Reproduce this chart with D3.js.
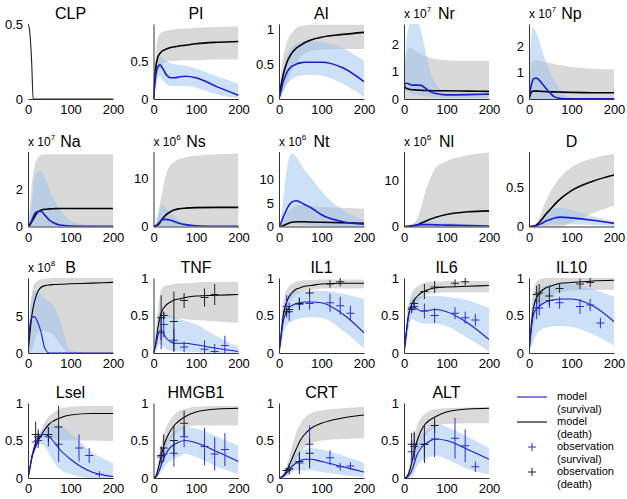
<!DOCTYPE html>
<html><head><meta charset="utf-8">
<script src="https://cdn.jsdelivr.net/npm/d3@7"></script>
<style>
body{margin:0;background:#fff;}
svg{display:block;}
text{font-family:"Liberation Sans",Arial,Helvetica,sans-serif;fill:#000;}
</style>
</head><body>
<svg id="c" width="627" height="499"></svg>
<script>
// ---------- data ----------
const T = [0, 5, 10, 15, 20, 30, 40, 50, 60, 75, 100, 150, 200];
const obsT = [18, 24, 48, 72, 120, 144, 168];
const xTicks = [0, 100, 200];

const CLP_t = [0, 3, 6, 9, 12, 200];
const CLP_v = [0.5, 0.47, 0.38, 0.22, 0, 0];

const PI_death   = [0, 0.40, 0.55, 0.60, 0.63, 0.66, 0.68, 0.69, 0.70, 0.71, 0.73, 0.75, 0.76];
const PI_deathLo = [0, 0.15, 0.32, 0.42, 0.46, 0.49, 0.50, 0.50, 0.51, 0.51, 0.51, 0.52, 0.52];
const PI_deathHi = [0, 0.55, 0.80, 0.86, 0.88, 0.90, 0.91, 0.92, 0.93, 0.93, 0.94, 0.95, 0.96];
const PI_surv    = [0, 0.30, 0.42, 0.45, 0.42, 0.32, 0.28, 0.28, 0.29, 0.30, 0.28, 0.16, 0.05];
const PI_survLo  = [0, 0.15, 0.28, 0.30, 0.26, 0.20, 0.17, 0.17, 0.17, 0.17, 0.15, 0.06, 0.01];
const PI_survHi  = [0, 0.40, 0.52, 0.56, 0.55, 0.50, 0.47, 0.46, 0.45, 0.44, 0.40, 0.30, 0.20];

const AI_death   = [0, 0.20, 0.35, 0.46, 0.55, 0.66, 0.73, 0.77, 0.81, 0.85, 0.89, 0.93, 0.96];
const AI_deathLo = [0, 0.05, 0.10, 0.17, 0.25, 0.40, 0.52, 0.60, 0.65, 0.69, 0.71, 0.72, 0.72];
const AI_deathHi = [0, 0.40, 0.62, 0.75, 0.85, 0.95, 1.02, 1.05, 1.06, 1.07, 1.07, 1.07, 1.07];
const AI_surv    = [0, 0.13, 0.25, 0.33, 0.40, 0.47, 0.50, 0.52, 0.53, 0.53, 0.53, 0.45, 0.25];
const AI_survLo  = [0, 0.05, 0.12, 0.18, 0.22, 0.28, 0.32, 0.34, 0.35, 0.35, 0.34, 0.22, 0.03];
const AI_survHi  = [0, 0.25, 0.42, 0.55, 0.65, 0.75, 0.80, 0.82, 0.83, 0.83, 0.82, 0.73, 0.55];

const Nr_death   = [0.50, 0.40, 0.37, 0.35, 0.34, 0.33, 0.32, 0.31, 0.31, 0.30, 0.30, 0.29, 0.28];
const Nr_deathLo = [0, 0, 0, 0, 0, 0, 0, 0, 0, 0, 0, 0, 0];
const Nr_deathHi = [0.6, 1.6, 1.85, 1.9, 1.85, 1.75, 1.65, 1.58, 1.52, 1.47, 1.42, 1.40, 1.40];
const Nr_surv    = [0.50, 0.58, 0.57, 0.52, 0.51, 0.51, 0.50, 0.40, 0.28, 0.20, 0.15, 0.16, 0.18];
const Nr_survLo  = [0.3, 0.3, 0.25, 0.2, 0.18, 0.15, 0.12, 0.1, 0.08, 0.06, 0.05, 0.05, 0.05];
const Nr_survHi  = [0.6, 2.0, 2.6, 2.9, 2.9, 2.9, 2.5, 1.8, 1.1, 0.55, 0.25, 0.22, 0.22];

const Np_death   = [0, 0.25, 0.30, 0.30, 0.30, 0.29, 0.28, 0.27, 0.27, 0.26, 0.25, 0.24, 0.24];
const Np_deathLo = [0, 0, 0, 0, 0, 0, 0, 0, 0, 0, 0, 0, 0];
const Np_deathHi = [0.2, 1.3, 1.45, 1.48, 1.47, 1.43, 1.40, 1.37, 1.33, 1.28, 1.22, 1.15, 1.12];
const Np_surv    = [0, 0.50, 0.75, 0.80, 0.78, 0.60, 0.40, 0.22, 0.08, 0.02, 0.01, 0.01, 0.01];
const Np_survLo  = [0, 0, 0, 0, 0, 0, 0, 0, 0, 0, 0, 0, 0];
const Np_survHi  = [0.3, 2.3, 2.75, 2.6, 2.4, 1.9, 1.4, 1.0, 0.7, 0.3, 0.05, 0.02, 0.02];

const Na_death   = [0, 0.10, 0.30, 0.50, 0.70, 0.88, 0.93, 0.95, 0.96, 0.97, 0.97, 0.97, 0.97];
const Na_deathLo = [0, 0, 0, 0, 0, 0, 0, 0, 0, 0, 0, 0, 0];
const Na_deathHi = [0, 1.2, 2.5, 3.2, 3.6, 3.85, 3.9, 3.9, 3.9, 3.9, 3.9, 3.9, 3.9];
const Na_surv    = [0, 0.15, 0.40, 0.65, 0.80, 0.82, 0.60, 0.35, 0.20, 0.08, 0.03, 0.01, 0.01];
const Na_survLo  = [0, 0, 0, 0, 0, 0, 0, 0, 0, 0, 0, 0, 0];
const Na_survHi  = [0, 0.5, 1.5, 2.5, 2.9, 3.0, 2.6, 2.0, 1.5, 0.9, 0.3, 0.05, 0.02];

const Ns_death   = [0, 0.1, 0.3, 0.8, 1.5, 2.5, 3.1, 3.5, 3.7, 3.85, 3.95, 4.0, 4.0];
const Ns_deathLo = [0, 0, 0, 0, 0, 0, 0, 0, 0, 0, 0, 0, 0];
const Ns_deathHi = [0, 0.5, 2.0, 4.5, 7.0, 11.0, 12.8, 13.6, 14.1, 14.5, 14.8, 15.1, 15.3];
const Ns_surv    = [0, 0.1, 0.5, 1.0, 1.4, 1.5, 1.3, 1.0, 0.7, 0.4, 0.15, 0.05, 0.03];
const Ns_survLo  = [0, 0, 0, 0, 0, 0, 0, 0, 0, 0, 0, 0, 0];
const Ns_survHi  = [0, 0.5, 2.5, 4.0, 4.5, 3.8, 2.8, 2.0, 1.3, 0.7, 0.3, 0.1, 0.05];

const Nt_death   = [0, 0.05, 0.2, 0.4, 0.6, 0.9, 1.0, 1.0, 1.0, 0.95, 0.9, 0.8, 0.7];
const Nt_deathLo = [0, 0, 0, 0, 0, 0, 0, 0, 0, 0, 0, 0, 0];
const Nt_deathHi = [0, 0.3, 1.0, 2.0, 3.0, 4.0, 4.5, 4.6, 4.6, 4.4, 4.2, 4.0, 3.8];
const Nt_surv    = [0, 0.8, 2.0, 3.0, 4.0, 5.2, 5.5, 5.2, 4.7, 4.0, 2.5, 1.0, 0.5];
const Nt_survLo  = [0, 0, 0, 0.2, 0.4, 0.6, 0.6, 0.5, 0.4, 0.3, 0.1, 0, 0];
const Nt_survHi  = [0, 2.0, 6.0, 10.0, 13.0, 15.5, 15.0, 13.5, 12.0, 10.5, 7.5, 3.5, 1.4];

const Nl_death   = [0, 0, 0, 0.02, 0.08, 0.3, 0.7, 1.1, 1.5, 2.0, 2.6, 3.2, 3.4];
const Nl_deathLo = [0, 0, 0, 0, 0, 0, 0, 0, 0, 0, 0, 0, 0];
const Nl_deathHi = [0, 0, 0.05, 0.15, 0.3, 1.5, 4.0, 7.5, 10.0, 12.8, 14.2, 15.5, 16.1];
const Nl_surv    = [0, 0, 0.05, 0.1, 0.2, 0.3, 0.4, 0.4, 0.4, 0.35, 0.3, 0.2, 0.1];
const Nl_survLo  = [0, 0, 0, 0, 0, 0, 0, 0, 0, 0, 0, 0, 0];
const Nl_survHi  = [0, 0, 0.2, 0.4, 0.6, 0.9, 1.1, 1.2, 1.1, 1.0, 0.8, 0.5, 0.3];

const D_death    = [0, 0, 0.005, 0.01, 0.03, 0.09, 0.16, 0.22, 0.28, 0.36, 0.46, 0.58, 0.66];
const D_deathLo  = [0, 0, 0, 0, 0, 0, 0, 0, 0, 0, 0.05, 0.17, 0.27];
const D_deathHi  = [0, 0, 0.01, 0.03, 0.07, 0.20, 0.33, 0.44, 0.53, 0.64, 0.76, 0.87, 0.93];
const D_surv     = [0, 0, 0.002, 0.005, 0.015, 0.04, 0.07, 0.09, 0.11, 0.12, 0.11, 0.08, 0.04];
const D_survLo   = [0, 0, 0, 0, 0, 0.01, 0.02, 0.03, 0.03, 0.03, 0.03, 0.02, 0.01];
const D_survHi   = [0, 0, 0.005, 0.01, 0.04, 0.10, 0.16, 0.20, 0.23, 0.24, 0.21, 0.13, 0.07];

const B_death    = [0, 3.0, 5.5, 7.0, 8.0, 9.0, 9.25, 9.35, 9.4, 9.45, 9.5, 9.6, 9.7];
const B_deathLo  = [0, 0, 0.5, 1.5, 2.5, 3.0, 3.0, 2.8, 2.5, 1.2, 0, 0, 0];
const B_deathHi  = [0.5, 5.5, 8.5, 9.5, 9.8, 10.1, 10.2, 10.25, 10.3, 10.3, 10.3, 10.3, 10.3];
const B_surv     = [0, 4.0, 4.9, 5.0, 4.6, 3.0, 0.6, 0, 0, 0, 0, 0, 0];
const B_survLo   = [0, 0, 0, 0, 0, 0, 0, 0, 0, 0, 0, 0, 0];
const B_survHi   = [0.5, 6.0, 8.0, 8.5, 8.5, 8.0, 7.5, 7.0, 6.5, 4.5, 0.3, 0, 0];

const TNF_death   = [0, 0.12, 0.32, 0.47, 0.56, 0.64, 0.68, 0.71, 0.72, 0.74, 0.76, 0.77, 0.78];
const TNF_deathLo = [0, 0.02, 0.15, 0.35, 0.45, 0.47, 0.47, 0.46, 0.46, 0.45, 0.44, 0.42, 0.40];
const TNF_deathHi = [0, 0.25, 0.55, 0.78, 0.86, 0.90, 0.91, 0.92, 0.93, 0.93, 0.94, 0.95, 0.95];
const TNF_surv    = [0, 0.10, 0.22, 0.30, 0.29, 0.20, 0.15, 0.13, 0.13, 0.13, 0.11, 0.06, 0.02];
const TNF_survLo  = [0, 0.03, 0.08, 0.12, 0.10, 0.05, 0.03, 0.02, 0.02, 0.02, 0.01, 0, 0];
const TNF_survHi  = [0, 0.25, 0.45, 0.55, 0.55, 0.53, 0.50, 0.48, 0.46, 0.43, 0.38, 0.22, 0.08];
const TNF_obsSurv = [0.27, 0.38, 0.17, 0.08, 0.05, 0.02, 0.10];
const TNF_errSurv = [0.22, 0.17, 0.15, 0.07, 0.12, 0.1, 0.13];
const TNF_obsDeath = [0.47, 0.50, 0.42, 0.70, 0.74, 0.78];
const TNF_errDeath = [0.3, 0.05, 0.4, 0.1, 0.12, 0.14];

const IL1_death   = [0, 0.25, 0.50, 0.63, 0.71, 0.80, 0.85, 0.87, 0.89, 0.90, 0.92, 0.93, 0.93];
const IL1_deathLo = [0, 0.10, 0.35, 0.50, 0.60, 0.72, 0.78, 0.81, 0.83, 0.84, 0.86, 0.86, 0.86];
const IL1_deathHi = [0, 0.40, 0.68, 0.80, 0.86, 0.92, 0.95, 0.96, 0.97, 0.97, 0.98, 0.98, 0.98];
const IL1_surv    = [0, 0.22, 0.42, 0.52, 0.58, 0.63, 0.66, 0.67, 0.68, 0.68, 0.67, 0.52, 0.27];
const IL1_survLo  = [0, 0.10, 0.25, 0.33, 0.38, 0.42, 0.45, 0.46, 0.47, 0.48, 0.47, 0.30, 0.06];
const IL1_survHi  = [0, 0.35, 0.60, 0.70, 0.76, 0.80, 0.82, 0.82, 0.83, 0.83, 0.83, 0.79, 0.72];
const IL1_obsSurv = [0.62, 0.55, 0.65, 0.66, 0.67, 0.63, 0.53];
const IL1_errSurv = [0.15, 0.12, 0.08, 0.08, 0.12, 0.12, 0.1];
const IL1_obsDeath = [0.55, 0.58, 0.66, 0.80, 0.92, 0.95];
const IL1_errDeath = [0.05, 0.05, 0.08, 0.06, 0.05, 0.06];

const IL6_death   = [0, 0.25, 0.48, 0.60, 0.67, 0.75, 0.80, 0.83, 0.85, 0.87, 0.88, 0.89, 0.90];
const IL6_deathLo = [0, 0.10, 0.30, 0.45, 0.55, 0.67, 0.73, 0.77, 0.79, 0.80, 0.81, 0.81, 0.81];
const IL6_deathHi = [0, 0.35, 0.62, 0.75, 0.82, 0.88, 0.92, 0.94, 0.95, 0.95, 0.96, 0.96, 0.96];
const IL6_surv    = [0, 0.25, 0.48, 0.60, 0.62, 0.59, 0.56, 0.56, 0.57, 0.58, 0.55, 0.40, 0.18];
const IL6_survLo  = [0, 0.12, 0.30, 0.42, 0.45, 0.42, 0.40, 0.39, 0.39, 0.39, 0.36, 0.20, 0.02];
const IL6_survHi  = [0, 0.35, 0.60, 0.70, 0.74, 0.75, 0.76, 0.76, 0.76, 0.76, 0.75, 0.70, 0.60];
const IL6_obsSurv = [0.58, 0.62, 0.56, 0.50, 0.53, 0.47, 0.44];
const IL6_errSurv = [0.05, 0.05, 0.1, 0.1, 0.08, 0.08, 0.08];
const IL6_obsDeath = [0.60, 0.66, 0.82, 0.88, 0.93, 0.95];
const IL6_errDeath = [0.05, 0.05, 0.1, 0.08, 0.05, 0.05];

const IL10_death   = [0, 0.35, 0.58, 0.70, 0.76, 0.83, 0.87, 0.89, 0.91, 0.93, 0.94, 0.96, 0.97];
const IL10_deathLo = [0, 0.15, 0.30, 0.45, 0.55, 0.65, 0.72, 0.76, 0.79, 0.81, 0.83, 0.84, 0.84];
const IL10_deathHi = [0, 0.55, 0.82, 0.92, 0.96, 0.99, 1, 1, 1, 1, 1, 1, 1];
const IL10_surv    = [0, 0.30, 0.50, 0.57, 0.60, 0.65, 0.68, 0.70, 0.71, 0.72, 0.72, 0.63, 0.42];
const IL10_survLo  = [0, 0.08, 0.15, 0.22, 0.27, 0.32, 0.34, 0.35, 0.36, 0.36, 0.35, 0.25, 0.10];
const IL10_survHi  = [0, 0.50, 0.70, 0.80, 0.85, 0.88, 0.90, 0.92, 0.92, 0.92, 0.92, 0.85, 0.75];
const IL10_obsSurv = [0.60, 0.60, 0.70, 0.67, 0.62, 0.64, 0.40];
const IL10_errSurv = [0.15, 0.1, 0.1, 0.08, 0.1, 0.08, 0.07];
const IL10_obsDeath = [0.78, 0.80, 0.76, 0.86, 0.92, 0.94];
const IL10_errDeath = [0.12, 0.12, 0.12, 0.06, 0.07, 0.06];

const Lsel_death   = [0, 0.15, 0.30, 0.38, 0.45, 0.56, 0.65, 0.72, 0.76, 0.80, 0.84, 0.86, 0.86];
const Lsel_deathLo = [0, 0.10, 0.25, 0.35, 0.42, 0.52, 0.58, 0.55, 0.52, 0.50, 0.50, 0.50, 0.49];
const Lsel_deathHi = [0, 0.20, 0.35, 0.42, 0.48, 0.62, 0.75, 0.82, 0.87, 0.92, 0.95, 0.96, 0.96];
const Lsel_surv    = [0, 0.15, 0.30, 0.42, 0.50, 0.57, 0.58, 0.55, 0.49, 0.38, 0.25, 0.08, 0.02];
const Lsel_survLo  = [0, 0.10, 0.22, 0.32, 0.40, 0.45, 0.42, 0.32, 0.22, 0.12, 0.05, 0, 0];
const Lsel_survHi  = [0, 0.20, 0.35, 0.45, 0.55, 0.62, 0.68, 0.71, 0.72, 0.70, 0.60, 0.35, 0.20];
const Lsel_obsSurv = [0.48, 0.50, 0.55, 0.45, 0.40, 0.30, 0.05];
const Lsel_errSurv = [0.08, 0.1, 0.13, 0.24, 0.18, 0.1, 0.04];
const Lsel_obsDeath = [0.58, 0.55, 0.58, 0.68];
const Lsel_errDeath = [0.17, 0.1, 0.1, 0.28];

const HMGB1_death   = [0, 0.02, 0.10, 0.22, 0.35, 0.52, 0.63, 0.71, 0.76, 0.82, 0.88, 0.92, 0.93];
const HMGB1_deathLo = [0, 0, 0.03, 0.10, 0.20, 0.38, 0.50, 0.58, 0.63, 0.67, 0.70, 0.70, 0.70];
const HMGB1_deathHi = [0, 0.05, 0.20, 0.35, 0.50, 0.68, 0.78, 0.85, 0.89, 0.92, 0.95, 0.96, 0.96];
const HMGB1_surv    = [0, 0.01, 0.05, 0.12, 0.20, 0.33, 0.41, 0.45, 0.48, 0.50, 0.47, 0.35, 0.22];
const HMGB1_survLo  = [0, 0, 0.02, 0.05, 0.10, 0.18, 0.23, 0.26, 0.29, 0.32, 0.28, 0.15, 0.05];
const HMGB1_survHi  = [0, 0.02, 0.10, 0.22, 0.33, 0.48, 0.57, 0.62, 0.66, 0.68, 0.66, 0.55, 0.43];
const HMGB1_obsSurv = [0.28, 0.32, 0.33, 0.55, 0.42, 0.32, 0.38];
const HMGB1_errSurv = [0.08, 0.1, 0.18, 0.14, 0.25, 0.22, 0.22];
const HMGB1_obsDeath = [0.30, 0.40, 0.50, 0.73];
const HMGB1_errDeath = [0.12, 0.18, 0.2, 0.17];

const CRT_death   = [0, 0.01, 0.03, 0.07, 0.12, 0.25, 0.38, 0.50, 0.58, 0.66, 0.73, 0.80, 0.84];
const CRT_deathLo = [0, 0, 0.01, 0.03, 0.06, 0.14, 0.25, 0.33, 0.40, 0.46, 0.50, 0.52, 0.53];
const CRT_deathHi = [0, 0.02, 0.06, 0.12, 0.20, 0.40, 0.60, 0.72, 0.80, 0.86, 0.90, 0.93, 0.95];
const CRT_surv    = [0, 0.01, 0.02, 0.05, 0.08, 0.15, 0.20, 0.23, 0.25, 0.25, 0.22, 0.15, 0.08];
const CRT_survLo  = [0, 0, 0.01, 0.02, 0.03, 0.07, 0.10, 0.10, 0.10, 0.10, 0.08, 0.04, 0.01];
const CRT_survHi  = [0, 0.02, 0.04, 0.09, 0.15, 0.25, 0.32, 0.35, 0.38, 0.40, 0.38, 0.30, 0.20];
const CRT_obsSurv = [0.10, 0.12, 0.20, 0.45, 0.27, 0.15, 0.16];
const CRT_errSurv = [0.03, 0.04, 0.15, 0.25, 0.1, 0.05, 0.05];
const CRT_obsDeath = [0.10, 0.12, 0.22, 0.33];
const CRT_errDeath = [0.03, 0.07, 0.12, 0.2];

const ALT_death   = [0, 0.01, 0.05, 0.13, 0.25, 0.48, 0.63, 0.72, 0.77, 0.82, 0.88, 0.92, 0.93];
const ALT_deathLo = [0, 0, 0.01, 0.05, 0.10, 0.30, 0.45, 0.55, 0.62, 0.68, 0.72, 0.73, 0.73];
const ALT_deathHi = [0, 0.02, 0.10, 0.25, 0.40, 0.68, 0.80, 0.86, 0.90, 0.92, 0.93, 0.94, 0.95];
const ALT_surv    = [0, 0.005, 0.02, 0.06, 0.12, 0.30, 0.40, 0.45, 0.49, 0.52, 0.50, 0.38, 0.25];
const ALT_survLo  = [0, 0, 0.01, 0.02, 0.02, 0.15, 0.22, 0.25, 0.28, 0.30, 0.25, 0.12, 0.05];
const ALT_survHi  = [0, 0.01, 0.05, 0.15, 0.30, 0.50, 0.58, 0.62, 0.67, 0.72, 0.68, 0.55, 0.40];
const ALT_obsSurv = [0.35, 0.42, 0.45, 0.52, 0.53, 0.43, 0.15];
const ALT_errSurv = [0.15, 0.18, 0.15, 0.24, 0.27, 0.22, 0.07];
const ALT_obsDeath = [0.45, 0.45, 0.45, 0.70];
const ALT_errDeath = [0.15, 0.17, 0.25, 0.1];

const legendLabels = [["model", "(survival)"], ["model", "(death)"], ["observation", "(survival)"], ["observation", "(death)"]];

// ---------- panel definitions (built from the arrays) ----------
function P(name, ymax, yticks, exp, d, dl, dh, s, sl, sh, os, es, od, ed) {
  return {name, ymax, yticks, exp, d, dl, dh, s, sl, sh, os, es, od, ed};
}
const panels = [
  {name: "CLP", ymax: 0.5, yticks: [0, 0.5], clp: true},
  P("PI", 0.99, [0, 0.5], null, PI_death, PI_deathLo, PI_deathHi, PI_surv, PI_survLo, PI_survHi),
  P("AI", 1.08, [0, 0.5, 1], null, AI_death, AI_deathLo, AI_deathHi, AI_surv, AI_survLo, AI_survHi),
  P("Nr", 2.75, [0, 1, 2], "7", Nr_death, Nr_deathLo, Nr_deathHi, Nr_surv, Nr_survLo, Nr_survHi),
  P("Np", 2.85, [0, 1, 2], "7", Np_death, Np_deathLo, Np_deathHi, Np_surv, Np_survLo, Np_survHi),
  P("Na", 4.05, [0, 2], "7", Na_death, Na_deathLo, Na_deathHi, Na_surv, Na_survLo, Na_survHi),
  P("Ns", 15.7, [0, 10], "6", Ns_death, Ns_deathLo, Ns_deathHi, Ns_surv, Ns_survLo, Ns_survHi),
  P("Nt", 16, [0, 5, 10], "6", Nt_death, Nt_deathLo, Nt_deathHi, Nt_surv, Nt_survLo, Nt_survHi),
  P("Nl", 16.3, [0, 10], "6", Nl_death, Nl_deathLo, Nl_deathHi, Nl_surv, Nl_survLo, Nl_survHi),
  P("D", 0.96, [0, 0.5], null, D_death, D_deathLo, D_deathHi, D_surv, D_survLo, D_survHi),
  P("B", 10.3, [0, 5], "8", B_death, B_deathLo, B_deathHi, B_surv, B_survLo, B_survHi),
  P("TNF", 1, [0, 0.5, 1], null, TNF_death, TNF_deathLo, TNF_deathHi, TNF_surv, TNF_survLo, TNF_survHi, TNF_obsSurv, TNF_errSurv, TNF_obsDeath, TNF_errDeath),
  P("IL1", 1, [0, 0.5, 1], null, IL1_death, IL1_deathLo, IL1_deathHi, IL1_surv, IL1_survLo, IL1_survHi, IL1_obsSurv, IL1_errSurv, IL1_obsDeath, IL1_errDeath),
  P("IL6", 1, [0, 0.5, 1], null, IL6_death, IL6_deathLo, IL6_deathHi, IL6_surv, IL6_survLo, IL6_survHi, IL6_obsSurv, IL6_errSurv, IL6_obsDeath, IL6_errDeath),
  P("IL10", 1, [0, 0.5, 1], null, IL10_death, IL10_deathLo, IL10_deathHi, IL10_surv, IL10_survLo, IL10_survHi, IL10_obsSurv, IL10_errSurv, IL10_obsDeath, IL10_errDeath),
  P("Lsel", 1, [0, 0.5, 1], null, Lsel_death, Lsel_deathLo, Lsel_deathHi, Lsel_surv, Lsel_survLo, Lsel_survHi, Lsel_obsSurv, Lsel_errSurv, Lsel_obsDeath, Lsel_errDeath),
  P("HMGB1", 1, [0, 0.5, 1], null, HMGB1_death, HMGB1_deathLo, HMGB1_deathHi, HMGB1_surv, HMGB1_survLo, HMGB1_survHi, HMGB1_obsSurv, HMGB1_errSurv, HMGB1_obsDeath, HMGB1_errDeath),
  P("CRT", 1, [0, 0.5, 1], null, CRT_death, CRT_deathLo, CRT_deathHi, CRT_surv, CRT_survLo, CRT_survHi, CRT_obsSurv, CRT_errSurv, CRT_obsDeath, CRT_errDeath),
  P("ALT", 1, [0, 0.5, 1], null, ALT_death, ALT_deathLo, ALT_deathHi, ALT_surv, ALT_survLo, ALT_survHi, ALT_obsSurv, ALT_errSurv, ALT_obsDeath, ALT_errDeath)
];

// ---------- layout / style ----------
const colX = [28, 153.5, 279, 404, 529];
const rowB = [99, 226.5, 353, 478];
const W = 85, H = 75;
const GRAY = "#d9d9d9", BLUEBAND = "rgb(153,193,239)", BLUE = "#1a1ad0", BLACK = "#000";
const OBSBLUE = "#2d2de0", OBSBLACK = "#222";

const svg = d3.select("#c");
const defs = svg.append("defs");

panels.forEach((p, i) => {
  const col = i % 5, row = Math.floor(i / 5);
  const x0 = colX[col], top = rowB[row] - H;
  const g = svg.append("g").attr("transform", `translate(${x0},${top})`);
  const x = d3.scaleLinear().domain([0, 200]).range([0, W]);
  const y = d3.scaleLinear().domain([0, p.ymax]).range([H, 0]);
  const lw = row < 2 ? 1.6 : 1.1;

  const cid = "clip" + i;
  defs.append("clipPath").attr("id", cid).append("rect")
    .attr("x", 0).attr("y", 0).attr("width", W).attr("height", H);
  const pg = g.append("g").attr("clip-path", `url(#${cid})`);

  if (p.clp) {
    const line = d3.line().x((d, j) => x(CLP_t[j])).y(d => y(d)).curve(d3.curveMonotoneX);
    pg.append("path").attr("d", line(CLP_v)).attr("fill", "none")
      .attr("stroke", "#222").attr("stroke-width", 1.1);
  } else {
    const area = (lo, hi) => d3.area().x((d, j) => x(T[j]))
      .y0((d, j) => y(lo[j])).y1((d, j) => y(hi[j])).curve(d3.curveMonotoneX)(T);
    const line = vals => d3.line().x((d, j) => x(T[j])).y(d => y(d)).curve(d3.curveMonotoneX)(vals);
    pg.append("path").attr("d", area(p.dl, p.dh)).attr("fill", GRAY);
    pg.append("path").attr("d", area(p.sl, p.sh)).attr("fill", BLUEBAND).attr("fill-opacity", 0.5);
    pg.append("path").attr("d", line(p.d)).attr("fill", "none").attr("stroke", BLACK).attr("stroke-width", lw);
    pg.append("path").attr("d", line(p.s)).attr("fill", "none").attr("stroke", BLUE).attr("stroke-width", lw);
  }

  // observations
  const drawObs = (vals, errs, color) => {
    if (!vals) return;
    const og = g.append("g").attr("stroke", color).attr("stroke-width", 1);
    vals.forEach((v, j) => {
      const cx = x(obsT[j]);
      og.append("line").attr("x1", cx).attr("x2", cx)
        .attr("y1", y(Math.max(0, v - errs[j]))).attr("y2", y(Math.min(p.ymax, v + errs[j])));
      og.append("line").attr("x1", cx - 4).attr("x2", cx + 4).attr("y1", y(v)).attr("y2", y(v));
    });
  };
  drawObs(p.os, p.es, OBSBLUE);
  drawObs(p.od, p.ed, OBSBLACK);

  // axes
  const ax = g.append("g").attr("transform", `translate(0,${H})`)
    .call(d3.axisBottom(x).tickValues(xTicks).tickSize(0).tickSizeOuter(0).tickPadding(6).tickFormat(d => String(d)));
  const ay = g.append("g")
    .call(d3.axisLeft(y).tickValues(p.yticks).tickSize(0).tickSizeOuter(0).tickPadding(5).tickFormat(d => String(d)));
  [ax, ay].forEach(a => {
    a.selectAll("text").attr("font-size", 13).attr("fill", "#000")
      .attr("font-family", '"Liberation Sans", Arial, sans-serif');
    a.select(".domain").attr("stroke", "#333").attr("stroke-width", 1);
  });
  if (p.clp) ay.select(".domain").remove();

  // title
  g.append("text").attr("x", W / 2).attr("y", -5).attr("text-anchor", "middle")
    .attr("font-size", 16).text(p.name);
  if (p.exp) {
    const t = g.append("text").attr("x", 0).attr("y", -6).attr("font-size", 12);
    t.append("tspan").text("x 10");
    t.append("tspan").attr("dy", -6).attr("font-size", 8).text(p.exp);
  }
});

// ---------- legend ----------
const lg = svg.append("g");
const ly = [397, 422, 447, 472];
const lcol = [BLUE, BLACK, OBSBLUE, OBSBLACK];
legendLabels.forEach((lab, k) => {
  if (k < 2) {
    lg.append("line").attr("x1", 517).attr("x2", 547).attr("y1", ly[k]).attr("y2", ly[k])
      .attr("stroke", lcol[k]).attr("stroke-width", 1.1);
  } else {
    lg.append("line").attr("x1", 528).attr("x2", 536).attr("y1", ly[k]).attr("y2", ly[k]).attr("stroke", lcol[k]);
    lg.append("line").attr("x1", 532).attr("x2", 532).attr("y1", ly[k] - 4).attr("y2", ly[k] + 4).attr("stroke", lcol[k]);
  }
  lg.append("text").attr("x", 557).attr("y", ly[k] + 3).attr("font-size", 11).text(lab[0]);
  lg.append("text").attr("x", 557).attr("y", ly[k] + 15.5).attr("font-size", 11).text(lab[1]);
});
</script>
</body></html>
